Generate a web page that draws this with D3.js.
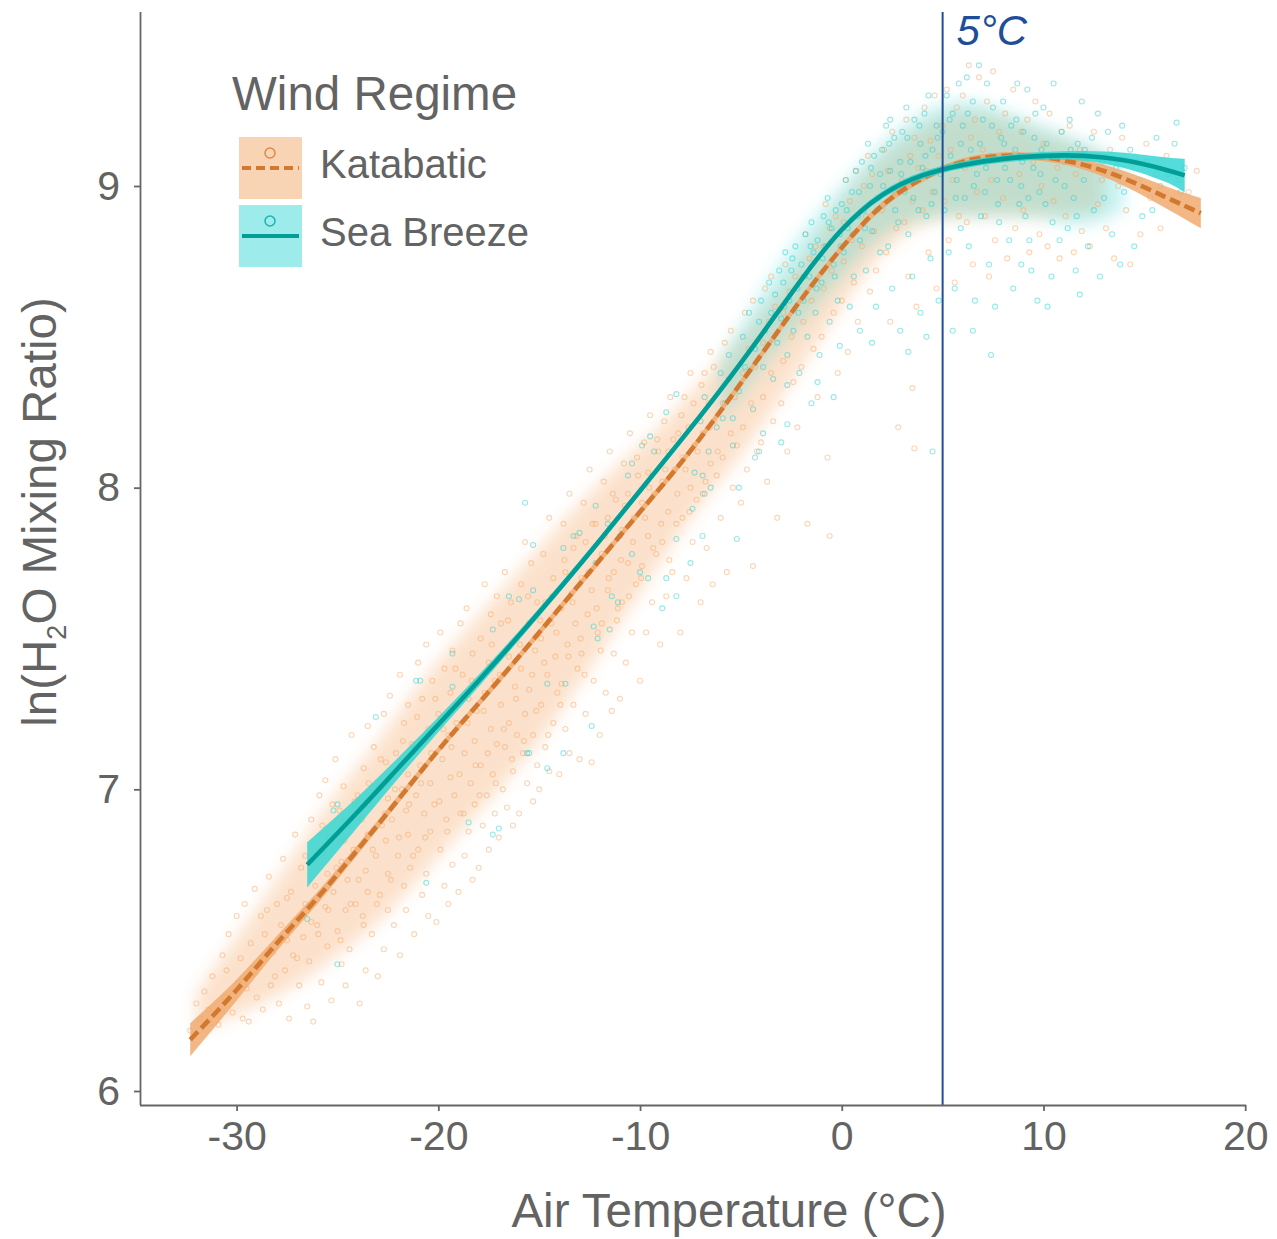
<!DOCTYPE html>
<html>
<head>
<meta charset="utf-8">
<script src="https://cdn.jsdelivr.net/npm/d3@7/dist/d3.min.js"></script>
<style>
body { margin: 0; background: white; }
text { font-family: "Liberation Sans", Arial, sans-serif; fill: #636363; }
</style>
</head>
<body>
<div id="chart"></div>
<script>

var width = 1277
var height = 1239

// axis ticks
var xTicks = [-30, -20, -10, 0, 10, 20]
var yTicks = [6, 7, 8, 9]

// smooth fits (gam), with half width of the ribbon
var kataFitT  = [-32.3, -30, -28, -26, -24, -22, -20, -18, -16, -14, -12, -10, -8, -6, -4, -2, 0, 2, 4, 6, 8, 10, 12, 14, 16, 17.8]
var kataFitH  = [6.17, 6.335, 6.49, 6.64, 6.80, 6.965, 7.13, 7.285, 7.44, 7.60, 7.76, 7.92, 8.08, 8.255, 8.44, 8.625, 8.795, 8.935, 9.025, 9.08, 9.10, 9.095, 9.07, 9.025, 8.965, 8.91]
var kataFitSe = [0.055, 0.035, 0.025, 0.02, 0.016, 0.014, 0.012, 0.012, 0.012, 0.012, 0.012, 0.012, 0.012, 0.012, 0.012, 0.012, 0.012, 0.012, 0.012, 0.012, 0.012, 0.013, 0.016, 0.025, 0.036, 0.05]

var seaFitT  = [-26.5, -24, -22, -20, -18, -16, -14, -12, -10, -8, -6, -4, -2, 0, 2, 4, 6, 8, 10, 12, 14, 16, 17]
var seaFitH  = [6.75, 6.925, 7.07, 7.215, 7.36, 7.51, 7.665, 7.825, 7.99, 8.155, 8.325, 8.505, 8.69, 8.855, 8.97, 9.035, 9.07, 9.09, 9.10, 9.10, 9.085, 9.055, 9.035]
var seaFitSe = [0.075, 0.05, 0.035, 0.025, 0.02, 0.015, 0.013, 0.012, 0.012, 0.012, 0.012, 0.012, 0.012, 0.012, 0.012, 0.012, 0.012, 0.012, 0.013, 0.016, 0.025, 0.04, 0.055]

// dense core of each point cloud
var kataCoreT  = [-32, -31, -29, -27, -25, -23, -21, -19, -17, -15, -13, -11, -9, -7, -5, -3, -1, 1, 3, 5, 7, 9, 11, 13]
var kataCoreLo = [6.20, 6.22, 6.28, 6.35, 6.45, 6.55, 6.70, 6.85, 7.00, 7.15, 7.35, 7.55, 7.75, 7.95, 8.10, 8.30, 8.50, 8.70, 8.85, 8.90, 8.90, 8.90, 8.90, 8.92]
var kataCoreHi = [6.32, 6.42, 6.60, 6.80, 7.00, 7.15, 7.35, 7.50, 7.65, 7.80, 7.95, 8.08, 8.20, 8.35, 8.50, 8.65, 8.85, 9.05, 9.15, 9.25, 9.25, 9.20, 9.15, 9.10]

var seaCoreT  = [-6, -4, -2, 0, 2, 4, 6, 8, 10, 12, 14]
var seaCoreLo = [8.22, 8.40, 8.55, 8.70, 8.85, 8.90, 8.90, 8.90, 8.90, 8.85, 8.92]
var seaCoreHi = [8.42, 8.65, 8.85, 9.00, 9.15, 9.25, 9.30, 9.25, 9.20, 9.15, 9.08]

// observations [air temperature, ln mixing ratio]
var kataPts = [
[-32.3,6.20],[-32.0,6.29],[-31.8,6.24],[-31.6,6.33],
[-31.4,6.27],[-31.2,6.38],[-30.9,6.22],[-30.7,6.45],[-30.6,6.31],
[-30.4,6.52],[-30.2,6.26],[-30.0,6.58],[-29.9,6.36],[-29.8,6.44],[-29.7,6.24],[-29.6,6.62],
[-29.4,6.23],[-29.3,6.49],[-29.1,6.67],[-29.0,6.31],[-28.9,6.41],[-28.8,6.58],[-28.7,6.27],[-28.6,6.52],
[-28.4,6.71],[-28.3,6.35],[-28.2,6.46],[-28.0,6.62],[-27.9,6.29],[-27.8,6.55],[-27.7,6.77],[-27.6,6.40],[-27.5,6.50],
[-27.4,6.24],[-27.3,6.66],[-27.2,6.45],[-27.1,6.85],[-27.0,6.57],[-26.9,6.35],[-26.8,6.74],[-26.7,6.51],[-26.6,6.62],[-26.5,6.28],
[-26.4,6.43],[-26.3,6.90],[-26.2,6.23],[-26.1,6.68],[-26.0,6.55],[-25.9,6.98],[-25.8,6.36],[-25.7,6.79],[-25.6,6.61],[-25.6,7.03],[-25.5,6.48],[-25.5,6.72],
[-25.4,6.84],[-25.3,6.30],[-25.2,6.66],[-25.1,7.10],[-25.0,6.53],[-24.9,6.93],[-24.8,6.42],[-24.8,6.76],[-24.7,7.01],[-24.6,6.60],[-24.6,6.35],[-24.5,6.88],[-24.5,6.70],
[-24.4,6.47],[-24.3,7.18],[-24.2,6.80],[-24.1,6.62],[-24.0,6.98],[-23.9,6.29],[-23.8,6.90],[-23.7,6.55],[-23.7,7.07],[-23.6,6.73],[-23.6,6.40],[-23.5,6.85],[-23.5,7.21],[-23.5,6.66],
[-23.4,6.95],[-23.3,6.52],[-23.2,7.14],[-23.1,6.78],[-23.0,6.38],[-22.9,7.02],[-22.9,6.65],[-22.8,6.88],[-22.7,7.25],[-22.7,6.47],[-22.6,6.83],[-22.6,7.09],[-22.5,6.60],[-22.5,6.97],[-22.5,6.72],
[-22.4,7.31],[-22.3,6.90],[-22.2,6.55],[-22.1,7.12],[-22.0,6.78],[-21.9,7.38],[-21.9,6.45],[-21.8,7.00],[-21.7,6.68],[-21.7,7.22],[-21.6,6.93],[-21.6,6.60],[-21.5,7.05],[-21.5,6.85],[-21.5,7.28],[-21.4,6.74],
[-21.3,7.15],[-21.2,6.52],[-21.1,6.98],[-21.0,7.42],[-21.0,6.80],[-20.9,7.08],[-20.8,6.65],[-20.8,7.30],[-20.7,6.92],[-20.6,7.48],[-20.6,6.72],[-20.5,7.20],[-20.5,6.58],[-20.4,7.02],[-20.4,6.86],[-20.3,7.36],
[-20.2,6.95],[-20.1,6.56],[-20.0,7.25],[-19.9,7.52],[-19.9,6.80],[-19.8,7.10],[-19.7,6.68],[-19.7,7.40],[-19.6,6.90],[-19.5,7.18],[-19.5,6.62],[-19.4,7.04],[-19.4,7.32],[-19.3,6.75],[-19.3,7.46],[-19.2,6.98],
[-19.1,7.22],[-19.0,6.66],[-18.9,7.55],[-18.9,6.92],[-18.8,7.38],[-18.7,6.78],[-18.7,7.12],[-18.6,7.60],[-18.5,6.86],[-18.5,7.30],[-18.4,7.02],[-18.3,6.70],[-18.3,7.45],[-18.2,7.16],[-18.2,6.95],[-18.1,7.26],
[-18.0,6.74],[-17.9,7.50],[-17.9,7.08],[-17.8,6.88],[-17.7,7.68],[-17.7,7.32],[-17.6,6.98],[-17.5,7.42],[-17.5,6.80],[-17.4,7.20],[-17.4,7.58],[-17.3,7.05],[-17.2,6.92],[-17.2,7.36],[-17.1,7.15],[-17.1,7.64],
[-17.0,6.84],[-16.9,7.28],[-16.9,7.55],[-16.8,7.00],[-16.7,7.72],[-16.7,7.14],[-16.6,6.94],[-16.5,7.44],[-16.5,7.22],[-16.4,7.62],[-16.3,7.06],[-16.3,6.88],[-16.2,7.34],[-16.1,7.50],[-16.1,7.18],
[-16.0,6.92],[-15.9,7.40],[-15.9,7.68],[-15.8,7.12],[-15.7,7.82],[-15.7,7.25],[-15.6,7.02],[-15.5,7.55],[-15.5,7.33],[-15.4,7.75],[-15.3,7.18],[-15.3,6.96],[-15.2,7.46],[-15.1,7.62],[-15.1,7.08],
[-15.0,7.00],[-14.9,7.50],[-14.9,7.28],[-14.8,7.78],[-14.7,7.14],[-14.7,7.62],[-14.6,7.38],[-14.5,7.90],[-14.5,7.06],[-14.4,7.55],[-14.3,7.22],[-14.3,7.70],[-14.2,7.44],[-14.1,7.32],
[-14.0,7.05],[-13.9,7.60],[-13.9,7.35],[-13.8,7.88],[-13.7,7.20],[-13.7,7.72],[-13.6,7.48],[-13.5,7.98],[-13.5,7.12],[-13.4,7.65],[-13.3,7.28],[-13.3,7.80],[-13.2,7.55],[-13.1,7.40],
[-13.0,7.10],[-12.9,7.70],[-12.9,7.45],[-12.8,7.95],[-12.7,7.25],[-12.7,7.82],[-12.6,7.58],[-12.5,8.06],[-12.4,7.09],[-12.4,7.66],[-12.3,7.36],[-12.2,7.88],[-12.1,7.52],
[-12.0,7.18],[-11.9,7.78],[-11.9,7.55],[-11.8,8.02],[-11.7,7.32],[-11.6,7.90],[-11.6,7.66],[-11.5,8.12],[-11.4,7.26],[-11.3,7.72],[-11.3,7.45],[-11.2,7.96],[-11.1,7.60],
[-11.0,7.30],[-10.9,7.86],[-10.9,7.62],[-10.8,8.08],[-10.7,7.42],[-10.6,7.98],[-10.6,7.75],[-10.5,8.18],[-10.4,7.52],[-10.3,7.90],[-10.2,7.68],[-10.1,8.04],
[-10.0,7.36],[-9.9,7.95],[-9.9,7.74],[-9.8,8.15],[-9.7,7.52],[-9.6,8.05],[-9.6,7.84],[-9.5,8.24],[-9.4,7.62],[-9.3,7.98],[-9.2,7.78],[-9.1,8.12],
[-9.0,7.48],[-8.9,8.02],[-8.9,7.82],[-8.8,8.22],[-8.7,7.64],[-8.6,8.12],[-8.6,7.92],[-8.5,8.30],[-8.4,7.72],[-8.3,8.06],[-8.2,7.88],[-8.1,8.18],
[-8.0,7.52],[-7.9,8.10],[-7.9,7.90],[-7.8,8.30],[-7.7,7.70],[-7.6,8.20],[-7.5,8.00],[-7.5,8.38],[-7.4,7.82],[-7.3,8.14],[-7.2,7.96],
[-7.0,7.62],[-6.9,8.18],[-6.9,7.98],[-6.8,8.38],[-6.7,7.80],[-6.6,8.28],[-6.5,8.08],[-6.5,8.45],[-6.4,7.68],[-6.3,8.22],[-6.2,8.04],
[-6.0,7.90],[-5.9,8.28],[-5.9,8.10],[-5.8,8.48],[-5.7,7.72],[-5.6,8.36],[-5.5,8.18],[-5.5,8.52],[-5.4,8.00],[-5.3,8.30],[-5.2,8.14],
[-5.0,7.95],[-4.9,8.38],[-4.9,8.20],[-4.8,8.58],[-4.7,8.06],[-4.6,8.46],[-4.5,8.28],[-4.4,7.74],[-4.4,8.62],[-4.3,8.40],[-4.2,8.12],
[-4.0,8.15],[-3.9,8.48],[-3.9,8.30],[-3.8,8.66],[-3.7,8.02],[-3.6,8.55],[-3.5,8.38],[-3.5,8.70],[-3.4,8.22],[-3.3,8.60],[-3.2,7.90],
[-3.0,8.28],[-2.9,8.58],[-2.9,8.42],[-2.8,8.74],[-2.7,8.12],[-2.6,8.65],[-2.5,8.50],[-2.4,8.35],[-2.3,8.70],[-2.2,8.20],
[-2.0,8.40],[-1.9,8.70],[-1.9,8.55],[-1.8,8.84],[-1.7,7.88],[-1.6,8.76],[-1.5,8.62],[-1.4,8.46],[-1.3,8.80],[-1.2,8.30],
[-1.0,8.50],[-0.9,8.80],[-0.9,8.66],[-0.8,8.94],[-0.7,8.10],[-0.6,8.86],[-0.6,7.84],[-0.5,8.72],[-0.4,8.58],[-0.3,8.90],[-0.2,8.38],
[0.0,8.62],[0.1,8.88],[0.1,8.75],[0.2,9.02],[0.3,8.45],[0.4,8.95],[0.5,8.82],[0.6,8.68],[0.7,9.05],[0.8,8.55],
[1.0,8.80],[1.1,9.00],[1.2,8.90],[1.3,9.10],[1.4,8.65],[1.5,9.04],[1.6,8.85],[1.7,8.72],[1.8,8.96],
[2.0,8.92],[2.1,9.12],[2.2,8.78],[2.3,9.05],[2.4,8.55],[2.5,9.18],[2.6,8.98],[2.7,8.86],[2.8,8.20],
[3.0,9.02],[3.1,8.88],[3.2,9.22],[3.3,8.70],[3.4,9.10],[3.5,8.95],[3.6,9.16],[3.7,8.60],[3.8,9.06],[3.5,8.33],[3.6,8.13],
[4.0,8.92],[4.1,9.26],[4.2,9.05],[4.3,8.78],[4.4,9.15],[4.5,8.98],[4.6,9.30],[4.7,8.66],[4.8,9.10],
[5.0,9.20],[5.1,8.95],[5.2,9.32],[5.3,8.82],[5.4,9.12],[5.5,9.02],[5.6,8.68],[5.7,9.26],[5.8,8.90],
[6.0,9.30],[6.1,9.06],[6.2,8.88],[6.3,9.40],[6.4,9.16],[6.5,8.74],[6.6,9.22],[6.7,8.98],[6.8,9.36],
[7.0,9.12],[7.1,8.90],[7.2,9.28],[7.3,8.70],[7.4,9.02],[7.5,9.38],[7.6,8.82],[7.8,9.18],
[8.0,8.96],[8.1,9.24],[8.2,8.76],[8.4,9.10],[8.5,9.32],[8.6,8.86],[8.8,9.04],[8.9,9.18],
[9.0,8.92],[9.2,9.22],[9.3,8.78],[9.5,9.08],[9.6,9.28],[9.8,8.84],[9.9,9.00],
[10.0,9.14],[10.2,8.80],[10.3,9.24],[10.5,8.95],[10.7,9.06],[10.8,8.76],[10.9,9.18],
[11.1,8.90],[11.3,9.20],[11.5,8.78],[11.6,9.04],[11.8,9.12],[11.9,8.85],
[12.1,9.08],[12.3,8.80],[12.5,9.18],[12.7,8.94],[12.9,9.02],
[13.1,8.86],[13.3,9.12],[13.5,8.76],[13.7,9.00],[13.9,9.16],
[14.1,8.92],[14.3,8.74],[14.6,9.08],[14.8,8.84],
[15.1,9.14],[15.3,8.96],[15.6,9.04],[15.8,8.86],
[16.1,9.10],[16.4,8.95],[16.7,9.02],
[17.2,8.98],[17.6,9.05],
[-30.5,6.40],[-29.5,6.34],[-28.5,6.60],[-28.1,6.38],[-27.5,6.64],[-27.0,6.44],[-26.6,6.78],[-26.3,6.56],
[-25.95,6.52],[-25.75,6.88],[-25.45,6.60],[-25.25,6.95],[-25.05,6.74],[-24.85,6.50],[-24.65,6.83],[-24.35,6.62],
[-24.15,6.96],[-23.95,6.70],[-23.75,6.58],[-23.45,7.02],[-23.25,6.80],[-23.05,6.62],[-22.85,7.10],[-22.65,6.92],
[-22.35,6.70],[-22.15,7.00],[-21.95,6.84],[-21.75,7.16],[-21.45,6.95],[-21.25,6.78],[-21.05,7.24],[-20.85,7.02],
[-20.65,6.84],[-20.35,7.12],[-20.15,7.30],[-19.95,6.96],[-19.75,7.20],[-19.55,6.86],[-19.35,7.14],[-19.15,7.40],
[-18.95,7.05],[-18.75,6.92],[-18.55,7.22],[-18.35,7.36],[-18.15,7.08],[-17.95,6.98],[-17.75,7.26],[-17.55,7.12],
[-17.35,7.48],[-17.15,7.02],[-16.95,7.38],[-16.75,7.20],[-16.55,7.56],[-16.35,7.10],[-16.15,7.30],[-15.95,7.48],
[-15.75,7.16],[-15.55,7.64],[-15.35,7.38],[-15.15,7.26],[-14.95,7.56],[-14.75,7.42],[-14.55,7.18],[-14.35,7.64],
[-14.15,7.52],[-13.95,7.28],[-13.75,7.76],[-13.55,7.44],[-13.35,7.62],[-13.15,7.84],[-12.95,7.50],[-12.75,7.38],
[-12.55,7.72],[-12.35,7.88],[-12.15,7.60],[-11.95,7.46],[-11.75,7.84],[-11.55,7.70],[-11.35,7.98],[-11.15,7.56],
[-10.95,7.76],[-10.75,7.94],[-10.55,7.64],[-10.35,7.82],[-10.15,8.10],[-9.95,7.70],[-9.75,7.90],[-9.55,8.00],
[-9.35,7.80],[-9.15,8.16],[-8.95,7.88],[-8.75,8.06],[-8.55,7.76],[-8.35,8.16],[-8.15,7.98],[-7.95,8.24],
[-7.75,8.06],[-7.55,7.92],[-7.35,8.28],[-7.15,8.12],[-6.95,8.34],[-6.75,8.02],[-6.55,8.20],[-6.35,8.40],[-6.15,8.12]
]

var seaPts = [
[-26.5,6.57],[-25.2,6.93],[-25.0,6.95],[-25.0,6.42],[-23.1,7.24],[-21.1,7.36],[-20.9,7.36],[-20.6,6.69],
[-19.3,7.34],[-19.3,7.45],[-18.5,6.89],[-17.3,7.53],[-17.3,6.85],[-17.0,6.87],[-16.5,7.64],[-16.0,7.63],
[-15.7,7.95],[-15.6,7.12],[-15.5,7.12],[-15.3,7.81],[-15.3,7.66],[-14.6,7.35],[-14.6,7.07],[-13.8,7.80],
[-13.8,7.12],[-13.7,7.35],[-13.3,7.84],[-13.0,7.85],[-12.4,7.21],[-12.3,7.54],[-12.2,7.75],[-12.2,7.94],
[-12.1,7.50],[-11.6,7.88],[-11.5,7.53],[-11.4,7.64],[-11.1,7.62],[-11.0,7.84],[-10.6,8.04],[-10.4,7.78],
[-10.4,8.08],[-10.0,7.72],[-9.9,8.14],[-9.6,7.70],[-9.5,8.17],[-9.3,8.12],[-8.9,7.60],[-8.7,7.70],
[-8.7,8.25],[-8.2,7.64],[-8.2,7.83],[-8.2,8.31],[-7.5,7.75],[-7.4,7.93],[-6.9,7.84],[-6.9,8.04],
[-6.8,7.98],[-6.5,8.00],[-5.9,8.23],[-5.4,8.23],[-5.2,7.83],[-5.1,8.00],[-4.3,8.10],[-4.1,8.12],
[-3.9,8.18],[-3.0,8.15],[-2.7,8.21],[-2.7,8.34],[-1.5,8.28],[-1.2,8.35],[-0.4,8.30],
[-7.3,8.05],[-7.0,8.22],[-6.8,8.30],[-6.6,8.12],
[-6.2,8.20],[-6.0,8.38],[-5.8,8.28],[-5.6,8.44],[-5.4,8.14],
[-5.1,8.32],[-4.9,8.50],[-4.8,8.40],[-4.6,8.58],[-4.4,8.26],[-4.3,8.46],[-4.1,8.55],
[-4.0,8.62],[-3.9,8.40],[-3.8,8.52],[-3.6,8.68],[-3.5,8.58],[-3.4,8.36],[-3.3,8.64],[-3.2,8.48],[-3.1,8.72],
[-3.0,8.56],[-2.9,8.68],[-2.8,8.78],[-2.7,8.44],[-2.6,8.62],[-2.5,8.72],[-2.4,8.52],[-2.3,8.80],[-2.2,8.66],[-2.1,8.38],
[-2.0,8.74],[-1.9,8.62],[-1.8,8.84],[-1.7,8.50],[-1.6,8.70],[-1.5,8.88],[-1.4,8.78],[-1.3,8.58],[-1.2,8.82],[-1.1,8.44],
[-1.0,8.68],[-0.9,8.90],[-0.8,8.80],[-0.7,8.96],[-0.6,8.55],[-0.5,8.86],[-0.4,8.74],[-0.3,8.92],[-0.2,8.62],[-0.1,8.84],[-0.1,8.47],
[0.0,8.94],[0.1,8.78],[0.2,9.02],[0.3,8.86],[0.4,8.60],[0.5,8.98],[0.6,8.70],[0.7,9.05],[0.8,8.90],[0.9,8.82],[0.9,8.52],
[1.0,9.08],[1.1,8.92],[1.2,8.72],[1.3,9.14],[1.4,9.00],[1.5,8.85],[1.6,9.10],[1.7,8.60],[1.8,8.96],[1.9,9.04],[1.9,8.78],[1.5,8.48],
[2.0,9.12],[2.1,8.94],[2.2,9.20],[2.3,8.80],[2.4,9.05],[2.5,8.66],[2.6,9.16],[2.7,8.98],[2.8,8.88],[2.9,9.08],[2.9,8.52],[2.4,9.22],
[3.0,9.18],[3.1,8.98],[3.2,9.26],[3.3,8.84],[3.4,9.08],[3.5,8.70],[3.6,9.22],[3.7,9.02],[3.8,8.92],[3.9,9.14],[3.9,8.58],[3.3,8.45],
[4.0,9.06],[4.1,9.24],[4.2,8.90],[4.3,9.30],[4.4,8.76],[4.5,9.12],[4.6,8.98],[4.7,9.20],[4.8,8.62],[4.9,9.04],[4.5,8.12],[4.2,8.50],
[5.0,9.18],[5.1,8.92],[5.2,9.30],[5.3,8.78],[5.4,9.10],[5.5,9.24],[5.6,8.66],[5.7,9.02],[5.8,9.34],[5.9,8.86],[5.5,8.52],[5.9,9.14],
[6.0,9.20],[6.1,8.96],[6.2,9.36],[6.3,8.80],[6.4,9.12],[6.5,9.28],[6.6,8.62],[6.7,9.04],[6.8,9.40],[6.9,8.90],[6.5,8.52],
[7.0,9.22],[7.1,8.98],[7.2,9.34],[7.3,8.74],[7.4,9.10],[7.5,9.26],[7.6,8.60],[7.7,9.02],[7.8,8.88],[7.9,9.16],[7.4,8.44],
[8.0,9.28],[8.1,9.06],[8.3,8.82],[8.4,9.20],[8.5,8.66],[8.6,9.12],[8.7,9.34],[8.8,8.94],[8.9,8.74],[8.9,9.00],
[9.0,9.18],[9.1,8.90],[9.2,9.32],[9.4,8.72],[9.5,9.06],[9.6,9.24],[9.7,8.62],[9.8,8.98],[9.9,9.12],[9.3,8.82],
[10.0,9.26],[10.1,8.94],[10.3,9.10],[10.4,8.70],[10.5,9.34],[10.6,9.02],[10.8,8.82],[10.9,9.18],[10.2,8.60],
[11.0,9.08],[11.2,8.86],[11.3,9.22],[11.5,8.96],[11.6,8.72],[11.7,9.14],[11.9,9.28],[11.8,8.64],
[12.0,9.02],[12.2,8.80],[12.4,9.16],[12.5,8.92],[12.7,9.24],[12.8,8.70],[12.9,9.08],
[13.0,8.96],[13.2,9.18],[13.4,8.84],[13.6,9.06],[13.8,8.74],[13.9,9.20],
[14.0,8.98],[14.3,9.12],[14.5,8.80],[14.7,9.02],[14.9,8.90],
[15.1,9.08],[15.4,8.92],[15.6,9.16],[15.8,9.00],
[16.2,9.04],[16.5,9.14],[16.8,8.98],[16.6,9.21],[17.0,9.06],
[-2.85,8.60],[-2.45,8.76],[-2.15,8.58],[-1.85,8.70],[-1.55,8.80],[-1.25,8.66],[-0.95,8.76],[-0.65,8.88],
[-0.35,8.70],[-0.05,8.80],[0.25,8.92],[0.55,8.84],[0.85,8.98],[1.15,8.86],[1.45,9.06],[1.75,8.92],
[2.05,9.00],[2.35,9.14],[2.65,8.92],[2.95,9.04],[3.25,9.16],[3.55,8.96],[3.85,9.20],[4.15,9.10],
[4.45,8.94],[4.75,9.16],[5.05,9.06],[5.35,9.22],[5.65,8.96],[5.95,9.08],[6.25,9.24],[6.55,9.00],
[6.85,9.14],[7.15,9.06],[7.45,9.20],[7.75,8.94],[8.05,9.14],[8.35,9.02],[8.65,9.22],[8.95,9.08],
[9.25,8.96],[9.55,9.16],[9.85,9.04],[10.15,9.14],[10.45,8.88],[10.75,9.10],[11.05,9.00],[11.35,9.12],
[11.65,8.90],[12.05,9.12]
]

var kataColor = "#d2782f"
var seaColor = "#009e96"

var svg = d3.select("#chart").append("svg")
    .attr("width", width)
    .attr("height", height)

var defs = svg.append("defs")
defs.append("filter").attr("id", "soft")
    .attr("x", "-20%").attr("y", "-20%").attr("width", "140%").attr("height", "140%")
  .append("feGaussianBlur").attr("stdDeviation", 8)

var x = d3.scaleLinear().domain([-34.79, 20.04]).range([140, 1246])
var y = d3.scaleLinear().domain([6, 9]).range([1091, 186])

function zip(t, a, b) {
    return t.map(function(d, i) { return { t: d, a: a[i], b: b ? b[i] : 0 } })
}

// soft density of the point clouds
var core = d3.area()
    .x(function(d) { return x(d.t) })
    .y0(function(d) { return y(d.a) })
    .y1(function(d) { return y(d.b) })
    .curve(d3.curveBasis)

svg.append("path")
    .datum(zip(kataCoreT, kataCoreLo, kataCoreHi))
    .attr("d", core)
    .attr("fill", "#f4a460")
    .attr("opacity", 0.32)
    .attr("filter", "url(#soft)")

svg.append("path")
    .datum(zip(seaCoreT, seaCoreLo, seaCoreHi))
    .attr("d", core)
    .attr("fill", "#26d3d3")
    .attr("opacity", 0.26)
    .attr("filter", "url(#soft)")

// points
svg.append("g").selectAll("circle")
    .data(kataPts)
    .enter().append("circle")
    .attr("cx", function(d) { return x(d[0]) })
    .attr("cy", function(d) { return y(d[1]) })
    .attr("r", 2.5)
    .attr("fill", "none")
    .attr("stroke", "#f4a460")
    .attr("stroke-width", 1.1)
    .attr("stroke-opacity", 0.45)

svg.append("g").selectAll("circle")
    .data(seaPts)
    .enter().append("circle")
    .attr("cx", function(d) { return x(d[0]) })
    .attr("cy", function(d) { return y(d[1]) })
    .attr("r", 2.5)
    .attr("fill", "none")
    .attr("stroke", "#1fcccc")
    .attr("stroke-width", 1.1)
    .attr("stroke-opacity", 0.45)

// smooths
var ribbon = d3.area()
    .x(function(d) { return x(d.t) })
    .y0(function(d) { return y(d.a - d.b) })
    .y1(function(d) { return y(d.a + d.b) })
    .curve(d3.curveNatural)

var fitLine = d3.line()
    .x(function(d) { return x(d.t) })
    .y(function(d) { return y(d.a) })
    .curve(d3.curveNatural)

var kataFit = zip(kataFitT, kataFitH, kataFitSe)
var seaFit = zip(seaFitT, seaFitH, seaFitSe)

svg.append("path").datum(kataFit).attr("d", ribbon)
    .attr("fill", "#f0aa70").attr("opacity", 0.85)
svg.append("path").datum(kataFit).attr("d", fitLine)
    .attr("fill", "none").attr("stroke", kataColor)
    .attr("stroke-width", 4.6).attr("stroke-dasharray", "11,5")

svg.append("path").datum(seaFit).attr("d", ribbon)
    .attr("fill", "#35d6d2").attr("opacity", 0.85)
svg.append("path").datum(seaFit).attr("d", fitLine)
    .attr("fill", "none").attr("stroke", seaColor)
    .attr("stroke-width", 4.6)

// 5 degree reference line
svg.append("line")
    .attr("x1", x(5)).attr("x2", x(5))
    .attr("y1", 12).attr("y2", 1105)
    .attr("stroke", "#1f4e99").attr("stroke-width", 2)

svg.append("text")
    .attr("x", x(5) + 14).attr("y", 45)
    .attr("font-size", "42px").attr("font-style", "italic")
    .style("fill", "#1f4e99")
    .text("5°C")

// axes
var fmt = function(d) { return String(d) }
var gx = svg.append("g").attr("transform", "translate(0,1105)")
gx.call(d3.axisBottom(x).tickValues(xTicks).tickFormat(fmt).tickSize(6).tickPadding(10).tickSizeOuter(0))
var gy = svg.append("g").attr("transform", "translate(140,0)")
gy.call(d3.axisLeft(y).tickValues(yTicks).tickFormat(fmt).tickSize(6).tickPadding(14).tickSizeOuter(0))

svg.selectAll(".domain, .tick line").attr("stroke", "#666").attr("stroke-width", 1.8)
gx.select(".domain").attr("d", "M140,0.5H1246")
gy.select(".domain").attr("d", "M0.5,12V1105")
svg.selectAll(".tick text")
    .attr("font-size", "41px")
    .style("fill", "#636363")
    .style("font-family", "'Liberation Sans', Arial, sans-serif")
gx.selectAll(".tick text").attr("dy", "0.71em")

svg.append("text")
    .attr("x", 729).attr("y", 1227)
    .attr("text-anchor", "middle")
    .attr("font-size", "47.5px")
    .text("Air Temperature (°C)")

var yt = svg.append("text")
    .attr("transform", "translate(56,512) rotate(-90)")
    .attr("text-anchor", "middle")
    .attr("font-size", "47.5px")
yt.append("tspan").text("ln(H")
yt.append("tspan").attr("font-size", "27px").attr("dy", 10).text("2")
yt.append("tspan").attr("dy", -10).text("O Mixing Ratio)")

// legend
var legend = svg.append("g")
legend.append("text")
    .attr("x", 232).attr("y", 110)
    .attr("font-size", "47.5px")
    .text("Wind Regime")

var keys = [
    { name: "Katabatic", bg: "#f8d4b4", pt: "#e08a45", line: kataColor, dash: "9,5", top: 137 },
    { name: "Sea Breeze", bg: "#9debeb", pt: "#19b5b0", line: seaColor, dash: null, top: 205 }
]
keys.forEach(function(k) {
    legend.append("rect")
        .attr("x", 239).attr("y", k.top)
        .attr("width", 63).attr("height", 62)
        .attr("fill", k.bg)
    legend.append("circle")
        .attr("cx", 270).attr("cy", k.top + 16).attr("r", 5)
        .attr("fill", "none").attr("stroke", k.pt).attr("stroke-width", 1.5)
    legend.append("line")
        .attr("x1", 242).attr("x2", 299)
        .attr("y1", k.top + 31).attr("y2", k.top + 31)
        .attr("stroke", k.line).attr("stroke-width", 4)
        .attr("stroke-dasharray", k.dash)
    legend.append("text")
        .attr("x", 320).attr("y", k.top + 41)
        .attr("font-size", "40px")
        .text(k.name)
})

</script>
</body>
</html>
